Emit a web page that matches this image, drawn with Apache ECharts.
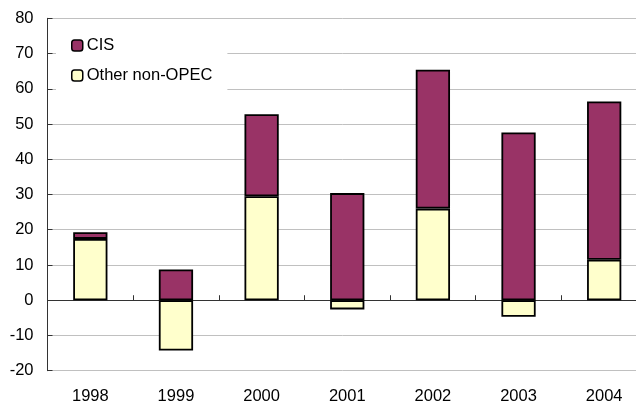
<!DOCTYPE html>
<html>
<head>
<meta charset="utf-8">
<script src="https://cdn.jsdelivr.net/npm/echarts@6/dist/echarts.min.js"></script>
<style>
  html, body { margin: 0; padding: 0; background: #fff; }
  #chart { width: 636px; height: 401px; }
</style>
</head>
<body>
<div id="chart"></div>
<script>
// 数据
const years = ['1998', '1999', '2000', '2001', '2002', '2003', '2004'];
const otherNonOpec = [17.4, -14.3, 29.5, -2.6, 26.0, -4.7, 11.5];
const cis = [1.9, 8.7, 23.3, 30.4, 39.4, 47.6, 44.9];
const yTicks = { min: -20, max: 80, interval: 10 };

const font = 'Liberation Sans';

const chart = echarts.init(document.getElementById('chart'));

const option = {
  animation: false,
  textStyle: { fontFamily: font },
  // outerBoundsMode none：允许网格超出右边界（原图被裁切）
  grid: { left: 47.5, right: -11, top: 18.3, bottom: 30.3, outerBoundsMode: 'none', containLabel: false },
  legend: {
    orient: 'vertical',
    left: 56,
    top: 27,
    padding: [10, 15, 10, 15],
    backgroundColor: '#fff',
    itemWidth: 11,
    itemHeight: 11,
    itemGap: 13,
    data: ['CIS', 'Other non-OPEC'],
    textStyle: { fontSize: 16.5, color: '#000', fontFamily: font, lineHeight: 17, padding: [0, 0, 0, -1] },
    itemStyle: { borderColor: '#000', borderWidth: 1.5 }
  },
  xAxis: [
    {
      // 底部标签
      type: 'category',
      data: years,
      position: 'bottom',
      axisLine: { show: false, onZero: false },
      axisTick: { show: false },
      axisLabel: { fontSize: 16.5, color: '#000', margin: 17, fontFamily: font },
      splitLine: { show: false }
    },
    {
      // 零线和刻度
      type: 'category',
      data: years,
      position: 'top',
      axisLine: { show: true, onZero: true, lineStyle: { color: '#333', width: 1 } },
      axisTick: { show: true, inside: false, length: 5, lineStyle: { color: '#333' } },
      axisLabel: { show: false },
      splitLine: { show: false }
    }
  ],
  yAxis: {
    type: 'value',
    min: yTicks.min,
    max: yTicks.max,
    interval: yTicks.interval,
    axisLine: { show: true, lineStyle: { color: '#333', width: 1 } },
    axisTick: { show: true, inside: true, length: 5, lineStyle: { color: '#333' } },
    axisLabel: { fontSize: 16.5, color: '#000', margin: 14, fontFamily: font },
    splitLine: { show: true, lineStyle: { color: '#c0c0c0', width: 1 } }
  },
  series: [
    {
      name: 'Other non-OPEC',
      type: 'bar',
      stack: 'total',
      xAxisIndex: 0,
      barWidth: '40%',
      data: otherNonOpec,
      itemStyle: { color: '#ffffcc', borderColor: '#000', borderWidth: 1.8 }
    },
    {
      name: 'CIS',
      type: 'bar',
      stack: 'total',
      xAxisIndex: 0,
      barWidth: '40%',
      data: cis,
      itemStyle: { color: '#993366', borderColor: '#000', borderWidth: 1.8 }
    }
  ]
};

chart.setOption(option);
</script>
</body>
</html>
